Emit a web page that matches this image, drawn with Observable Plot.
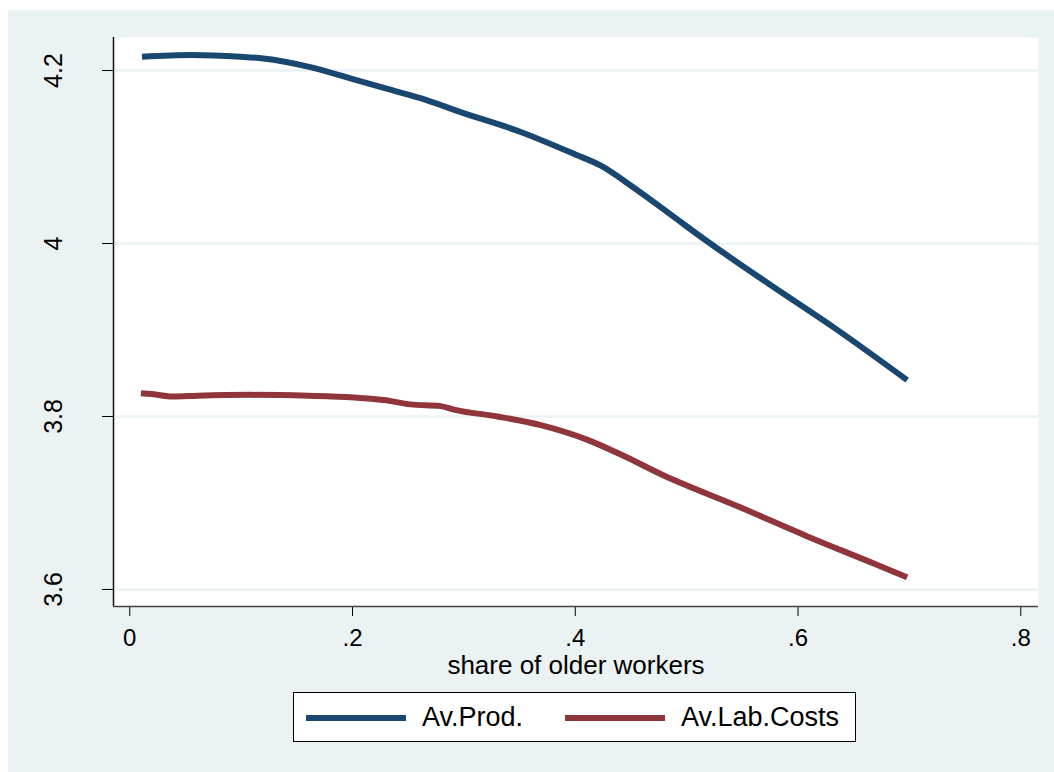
<!DOCTYPE html>
<html>
<head>
<meta charset="utf-8">
<script src="https://cdn.jsdelivr.net/npm/d3@7"></script>
<script src="https://cdn.jsdelivr.net/npm/@observablehq/plot@0.6"></script>
<style>
  html, body { margin: 0; padding: 0; background: #ffffff; }
  body { width: 1054px; height: 772px; position: relative; overflow: hidden; font-family: "Liberation Sans", Arial, sans-serif; }
  #panel { position: absolute; left: 8px; top: 10px; width: 1046px; height: 762px; background: #eaf2f3; }
  #legend { position: absolute; left: 285px; top: 682px; width: 561px; height: 48px; background: #ffffff; border: 1px solid #000; }
  #legend .sw { position: absolute; height: 6px; top: 22px; width: 100px; }
  #legend .lb { position: absolute; top: 0; line-height: 48px; font-size: 27px; color: #000; white-space: nowrap; }
</style>
</head>
<body>
<div id="panel"><div id="chart"></div><div id="legend"></div></div>
<script>
const seriesNames = ["Av.Prod.", "Av.Lab.Costs"];
const seriesColors = ["#1a476f", "#90353b"];

const prodX = [0.011, 0.055, 0.099, 0.120, 0.162, 0.198, 0.225, 0.261, 0.297, 0.351, 0.400, 0.423, 0.452, 0.483, 0.519, 0.573, 0.632, 0.698];
const prodY = [4.216, 4.218, 4.216, 4.214, 4.204, 4.191, 4.181, 4.168, 4.152, 4.129, 4.103, 4.090, 4.065, 4.036, 4.002, 3.954, 3.903, 3.842];

const costX = [0.010, 0.020, 0.039, 0.061, 0.108, 0.160, 0.201, 0.228, 0.252, 0.279, 0.291, 0.330, 0.369, 0.411, 0.441, 0.479, 0.548, 0.609, 0.668, 0.698];
const costY = [3.827, 3.826, 3.823, 3.824, 3.825, 3.824, 3.822, 3.819, 3.814, 3.812, 3.808, 3.800, 3.790, 3.773, 3.756, 3.732, 3.695, 3.661, 3.630, 3.614];

const xTicks = [0, 0.2, 0.4, 0.6, 0.8];
const xTickLabels = ["0", ".2", ".4", ".6", ".8"];
const yTicks = [3.6, 3.8, 4.0, 4.2];
const yTickLabels = ["3.6", "3.8", "4", "4.2"];
const xTitle = "share of older workers";

const xDomain = [-0.0146, 0.8159];
const yDomain = [3.5803, 4.2382];

const prod = prodX.map((x, i) => ({x, y: prodY[i]}));
const cost = costX.map((x, i) => ({x, y: costY[i]}));
const xTickData = xTicks.map((v, i) => ({v, t: xTickLabels[i]}));
const yTickData = yTicks.map((v, i) => ({v, t: yTickLabels[i]}));

const chart = Plot.plot({
  width: 1046,
  height: 690,
  marginLeft: 105,
  marginRight: 16,
  marginTop: 27,
  marginBottom: 94,
  style: {background: "transparent", fontFamily: "'Liberation Sans', Arial, sans-serif", color: "#000"},
  x: {domain: xDomain, ticks: xTicks, tickSize: 10, tickFormat: () => "", label: null},
  y: {domain: yDomain, ticks: yTicks, tickSize: 11, tickFormat: () => "", label: null},
  marks: [
    Plot.frame({fill: "white", stroke: "none"}),
    Plot.ruleY(yTicks, {stroke: "#eaf2f3", strokeWidth: 2.5}),
    Plot.ruleX([xDomain[0]], {stroke: "#111", strokeWidth: 1.5}),
    Plot.ruleY([yDomain[0]], {stroke: "#444", strokeWidth: 1.5}),
    Plot.text(yTickData, {y: "v", text: "t", frameAnchor: "left", dx: -60, rotate: -90, textAnchor: "middle", lineAnchor: "middle", fontSize: 25, fill: "#000"}),
    Plot.text(xTickData, {x: "v", text: "t", frameAnchor: "bottom", dy: 32, textAnchor: "middle", lineAnchor: "middle", fontSize: 24, fill: "#000"}),
    Plot.text([xTitle], {text: d => d, frameAnchor: "bottom", dy: 59, textAnchor: "middle", lineAnchor: "middle", fontSize: 26, fill: "#000"}),
    Plot.line(prod, {x: "x", y: "y", curve: "monotone-x", stroke: seriesColors[0], strokeWidth: 6, strokeLinecap: "butt", strokeLinejoin: "round"}),
    Plot.line(cost, {x: "x", y: "y", curve: "monotone-x", stroke: seriesColors[1], strokeWidth: 6, strokeLinecap: "butt", strokeLinejoin: "round"})
  ]
});
document.getElementById("chart").appendChild(chart);

const legend = document.getElementById("legend");
const swLeft = [12, 271];
const lbLeft = [128, 387];
seriesNames.forEach((name, i) => {
  const sw = document.createElement("div");
  sw.className = "sw";
  sw.style.left = swLeft[i] + "px";
  sw.style.background = seriesColors[i];
  legend.appendChild(sw);
  const lb = document.createElement("div");
  lb.className = "lb";
  lb.style.left = lbLeft[i] + "px";
  lb.textContent = name;
  legend.appendChild(lb);
});
</script>
</body>
</html>
